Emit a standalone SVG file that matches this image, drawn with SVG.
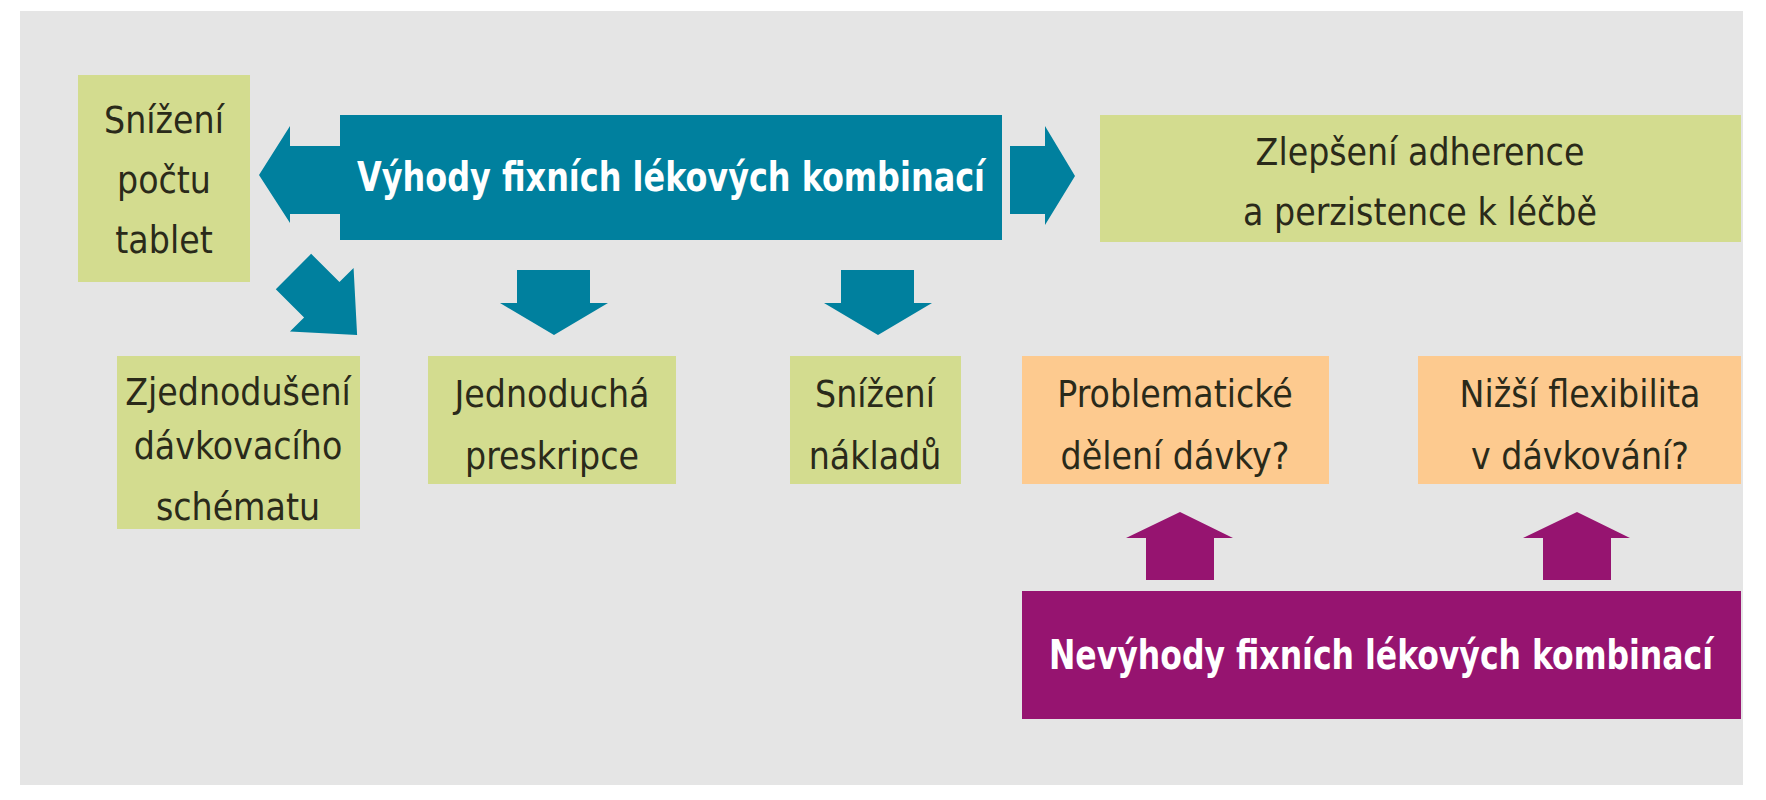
<svg xmlns="http://www.w3.org/2000/svg" width="1766" height="800" viewBox="0 0 1766 800">
<style>
.g{fill:#d3dc8f}.o{fill:#fdca8f}.t{fill:#00809e}.p{fill:#961470}
text{font-family:"Liberation Sans Narrow","DejaVu Sans Condensed","Liberation Sans",sans-serif;font-size:37px;fill:#2a2a1a;text-anchor:middle}
.w{fill:#fff;font-weight:bold;font-size:40px}
</style>
<rect width="1766" height="800" fill="#fff"/>
<rect x="20" y="11" width="1723" height="774" fill="#e5e5e5"/>
<g id="n1"><rect class="g" x="78" y="75" width="172" height="207"/><text x="164" y="133">Snížení</text><text x="164" y="193">počtu</text><text x="164" y="253">tablet</text></g>
<g id="n0"><rect class="t" x="340" y="115" width="662" height="125"/><text class="w" x="671" y="191" textLength="628" lengthAdjust="spacingAndGlyphs">Výhody fixních lékových kombinací</text></g>
<g id="n2"><rect class="g" x="1100" y="115" width="641" height="127"/><text x="1420" y="165">Zlepšení adherence</text><text x="1420" y="225">a perzistence k léčbě</text></g>
<g id="n3"><rect class="g" x="117" y="356" width="243" height="173"/><text x="238" y="405">Zjednodušení</text><text x="238" y="459">dávkovacího</text><text x="238" y="520">schématu</text></g>
<g id="n4"><rect class="g" x="428" y="356" width="248" height="128"/><text x="552" y="407">Jednoduchá</text><text x="552" y="469">preskripce</text></g>
<g id="n5"><rect class="g" x="790" y="356" width="171" height="128"/><text x="875" y="407">Snížení</text><text x="875" y="469">nákladů</text></g>
<g id="n6"><rect class="o" x="1022" y="356" width="307" height="128"/><text x="1175" y="407">Problematické</text><text x="1175" y="469">dělení dávky?</text></g>
<g id="n7"><rect class="o" x="1418" y="356" width="323" height="128"/><text x="1580" y="407">Nižší flexibilita</text><text x="1580" y="469">v dávkování?</text></g>
<g id="n8"><rect class="p" x="1022" y="591" width="719" height="128"/><text class="w" x="1381" y="669" textLength="664" lengthAdjust="spacingAndGlyphs">Nevýhody fixních lékových kombinací</text></g>
<g id="connectors">
<polygon class="t" points="340,146 290,146 290,126 259,175 290,223 290,214 340,214"/>
<polygon class="t" points="1010,146 1045,146 1045,126 1075,176 1045,225 1045,214 1010,214"/>
<polygon class="t" points="517,270 590,270 590,303 608,303 554,335 500,303 517,303"/>
<polygon class="t" points="841,270 914,270 914,303 932,303 878,335 824,303 841,303"/>
<polygon class="t" transform="translate(6 8) rotate(-45 320 296)" points="295,250 345,250 345,290 365,290 320,340 275,290 295,290"/>
<polygon class="p" points="1146,580 1214,580 1214,538 1233,538 1180,512 1126,538 1146,538"/>
<polygon class="p" points="1543,580 1611,580 1611,538 1630,538 1577,512 1523,538 1543,538"/>
</g>
</svg>
